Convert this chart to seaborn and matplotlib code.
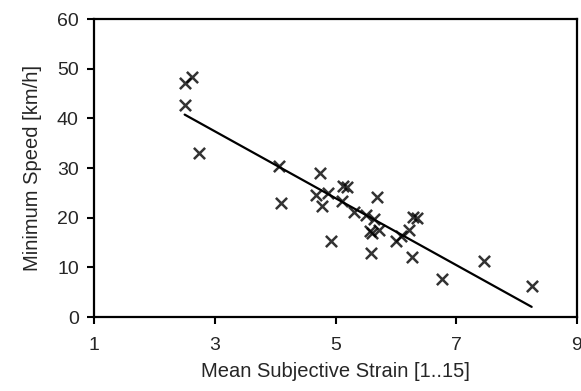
import numpy as np
import pandas as pd
import matplotlib
matplotlib.use("Agg")
import matplotlib.pyplot as plt
import seaborn as sns

# values
strain = [2.50, 2.63, 2.50, 2.74, 4.06, 4.10, 4.74, 4.67, 4.77, 4.88,
          4.92, 5.12, 5.19, 5.11, 5.31, 5.51, 5.63, 5.69, 5.57, 5.61,
          5.72, 5.58, 6.00, 6.09, 6.22, 6.29, 6.35, 6.27, 6.76, 7.46, 8.25]
speed = [47.1, 48.4, 42.7, 33.1, 30.4, 22.9, 29.0, 24.5, 22.4, 25.0,
         15.4, 26.4, 26.1, 23.4, 21.2, 20.5, 19.7, 24.2, 17.4, 16.9,
         17.5, 12.9, 15.4, 16.4, 17.6, 20.1, 19.9, 12.1, 7.6, 11.2, 6.2]
x_ticks = [1, 3, 5, 7, 9]
y_ticks = [0, 10, 20, 30, 40, 50, 60]

df = pd.DataFrame({"Strain": strain, "Speed": speed})

sns.set_style("ticks")
plt.rcParams['font.family'] = ['Liberation Sans', 'DejaVu Sans']

fig = plt.figure(figsize=(5.81, 3.91), dpi=100)
ax = fig.add_axes([0.162, 0.189, 0.831, 0.762])

sns.regplot(data=df, x="Strain", y="Speed", ax=ax, ci=None, color="black",
            marker="x", scatter_kws={"s": 65, "linewidths": 1.8},
            line_kws={"linewidth": 1.6})

ax.set_xlim(1, 9)
ax.set_ylim(0, 60)
ax.set_xticks(x_ticks)
ax.set_yticks(y_ticks)
ax.tick_params(labelsize=14, length=5, width=1.5, color="black")
ax.tick_params(axis="x", pad=9)
ax.tick_params(axis="y", pad=6)
for s in ax.spines.values():
    s.set_linewidth(1.6)
    s.set_color("black")
ax.set_xlabel("Mean Subjective Strain [1..15]", fontsize=14.5, labelpad=6)
ax.set_ylabel("Minimum Speed [km/h]", fontsize=14.5, labelpad=11)

fig.savefig("out.png", dpi=100)
